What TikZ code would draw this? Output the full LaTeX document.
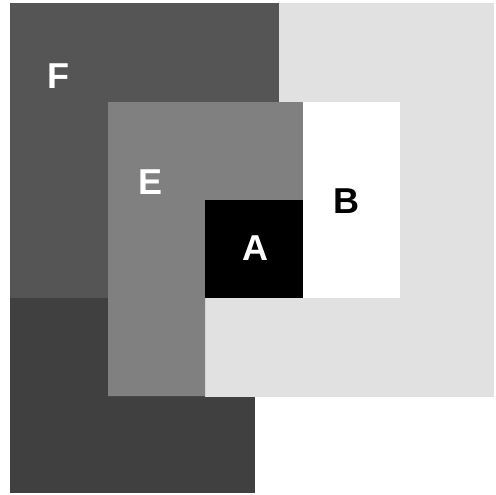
\documentclass[tikz,border=0pt]{standalone}
\usepackage{fontspec}
\setmainfont{Liberation Sans}
\definecolor{lgray}{HTML}{E1E1E1}
\definecolor{fgray}{HTML}{555555}
\definecolor{dgray}{HTML}{404040}
\definecolor{egray}{HTML}{808080}
\begin{document}
\begin{tikzpicture}[x=1pt,y=-1pt,
  lbl/.style={inner sep=0pt,anchor=center,font=\fontsize{36}{40}\selectfont\bfseries}]
\useasboundingbox (0,0) rectangle (495,495);
\fill[dgray] (10,298) rectangle (255,493);
\fill[lgray] (205,3) rectangle (494,397);
\fill[fgray] (10,3) rectangle (279,298);
\fill[egray] (108,102) -- (303,102) -- (303,200) -- (205,200) -- (205,396) -- (108,396) -- cycle;
\fill[white] (303,102) rectangle (400,298);
\fill[black] (205,200) rectangle (303,298);
\node[lbl,text=white] (F) at (58.7,76.3) {F};
\node[lbl,text=white] (E) at (150.3,181.7) {E};
\node[lbl,text=black] (B) at (346,200.8) {B};
\node[lbl,text=white] (A) at (255.3,248) {A};
\end{tikzpicture}
\end{document}
